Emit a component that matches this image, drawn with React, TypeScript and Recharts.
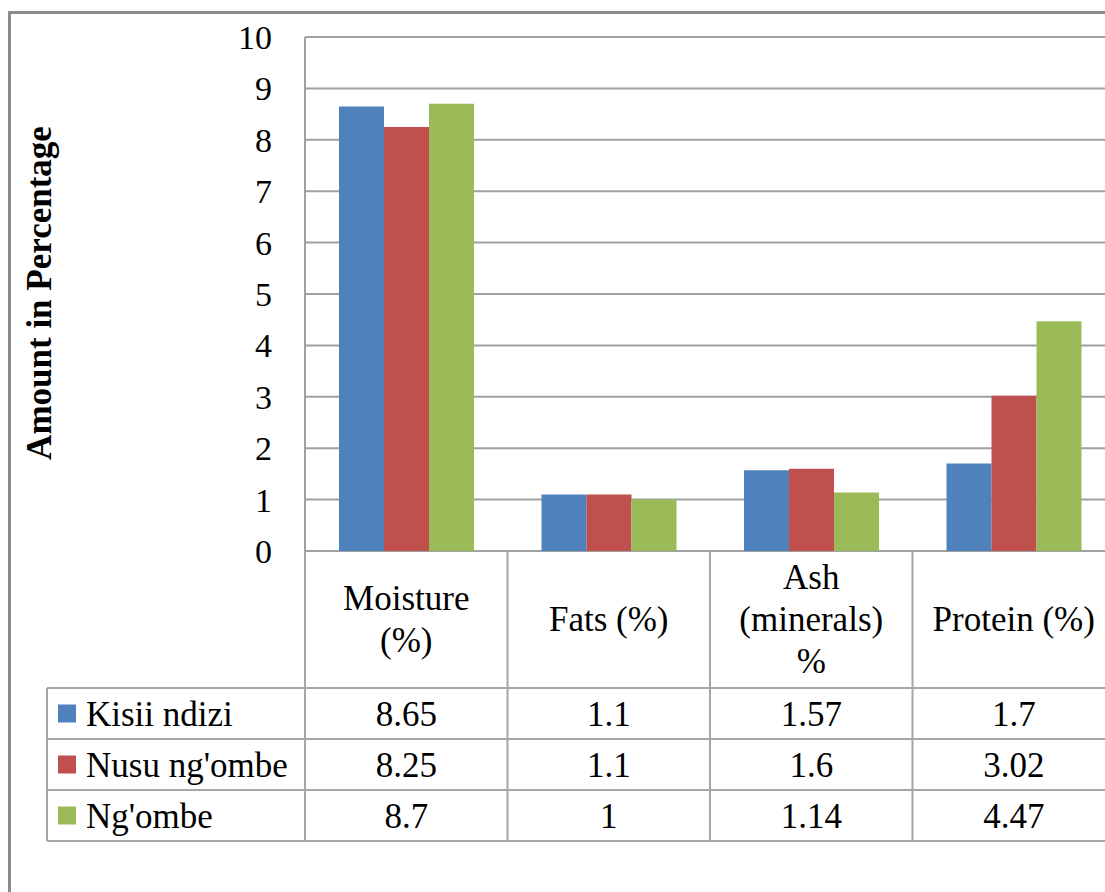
import { Bar, BarChart, CartesianGrid, XAxis, YAxis } from "recharts"

const categories = ["Moisture (%)", "Fats (%)", "Ash (minerals) %", "Protein (%)"]
// header lines as they wrap in the data table
const categoryLines = [["Moisture", "(%)"], ["Fats (%)"], ["Ash", "(minerals)", "%"], ["Protein (%)"]]
const kisiiNdizi = [8.65, 1.1, 1.57, 1.7]
const nusuNgombe = [8.25, 1.1, 1.6, 3.02]
const ngombe = [8.7, 1, 1.14, 4.47]
const seriesNames = ["Kisii ndizi", "Nusu ng'ombe", "Ng'ombe"]
const seriesColors = ["#4F81BD", "#C0504D", "#9BBB59"]
const yTicks = [0, 1, 2, 3, 4, 5, 6, 7, 8, 9, 10]

const seriesValues = [kisiiNdizi, nusuNgombe, ngombe]

const chartData = categories.map((name, i) => ({
  name,
  kisii: kisiiNdizi[i],
  nusu: nusuNgombe[i],
  ngombe: ngombe[i],
}))

const FONT = "Liberation Serif, Times New Roman, serif"
const textStyle = { fontFamily: FONT }
const LINE = "#a6a6a6"
const HEADER_H = 137
const ROW_H = 51

// each x tick draws one column of the data table under its category
function TableColumn(props: any) {
  const { x, y, payload, index } = props
  const half = payload.offset || 101
  const left = x - half
  const right = x + half
  const lines = categoryLines[index] || [payload.value]
  const headerMid = y + HEADER_H / 2
  const rowsTop = y + HEADER_H
  return (
    <g>
      <line x1={left} y1={y} x2={left} y2={rowsTop + ROW_H * 3} stroke={LINE} strokeWidth={2} />
      {lines.map((t: string, k: number) => (
        <text
          key={k}
          x={x}
          y={headerMid + (k - (lines.length - 1) / 2) * 42}
          dy="0.33em"
          textAnchor="middle"
          fontSize={35}
          style={textStyle}
          fill="#000"
        >
          {t}
        </text>
      ))}
      {[0, 1, 2, 3].map((r) => (
        <line key={r} x1={left} y1={rowsTop + r * ROW_H} x2={right} y2={rowsTop + r * ROW_H} stroke={LINE} strokeWidth={2} />
      ))}
      {seriesValues.map((vals, r) => (
        <text
          key={r}
          x={x}
          y={rowsTop + r * ROW_H + ROW_H / 2}
          dy="0.35em"
          textAnchor="middle"
          fontSize={35}
          style={textStyle}
          fill="#000"
        >
          {vals[index]}
        </text>
      ))}
      {index === 0 && (
        <g>
          <line x1={47} y1={rowsTop} x2={47} y2={rowsTop + ROW_H * 3} stroke={LINE} strokeWidth={2} />
          {[0, 1, 2, 3].map((r) => (
            <line key={r} x1={47} y1={rowsTop + r * ROW_H} x2={left} y2={rowsTop + r * ROW_H} stroke={LINE} strokeWidth={2} />
          ))}
          {seriesNames.map((n, r) => (
            <g key={n}>
              <rect x={58} y={rowsTop + r * ROW_H + ROW_H / 2 - 9} width={18} height={18} fill={seriesColors[r]} />
              <text
                x={86}
                y={rowsTop + r * ROW_H + ROW_H / 2}
                dy="0.35em"
                fontSize={35}
                style={textStyle}
                fill="#000"
              >
                {n}
              </text>
            </g>
          ))}
        </g>
      )}
    </g>
  )
}

function AxisTitle() {
  return (
    <text
      x={39}
      y={293}
      transform="rotate(-90 39 293)"
      textAnchor="middle"
      dy="0.35em"
      fontSize={35}
      fontWeight="bold"
      style={textStyle}
      fill="#000"
    >
      Amount in Percentage
    </text>
  )
}

export default function App() {
  return (
    <div style={{ position: "fixed", left: 0, top: 0, width: 1105, height: 892, overflow: "hidden", background: "#fff", fontFamily: FONT }}>
      <div
        style={{
          position: "absolute",
          left: 8,
          top: 11,
          width: 1200,
          height: 1000,
          border: "3px solid #8c8c8c",
          boxSizing: "border-box",
        }}
      />
      <div style={{ position: "absolute", left: 0, top: 0 }}>
        <BarChart
          width={1135}
          height={892}
          data={chartData}
          margin={{ top: 37, right: 20, bottom: 50, left: 225 }}
          barCategoryGap={34}
          barGap={0}
          style={textStyle}
        >
          <CartesianGrid vertical={false} stroke="#a0a0a0" strokeWidth={2} />
          <XAxis
            dataKey="name"
            axisLine={false}
            tickLine={false}
            tickSize={0}
            tickMargin={0}
            height={291}
            interval={0}
            tick={<TableColumn />}
          />
          <YAxis
            width={80}
            domain={[0, 10]}
            ticks={yTicks}
            interval={0}
            axisLine={{ stroke: "#a0a0a0", strokeWidth: 2 }}
            tickLine={false}
            tickSize={0}
            tickMargin={33}
            tick={{ fill: "#000", fontSize: 34, style: textStyle }}
            label={{ content: () => <AxisTitle /> }}
          />
          <Bar dataKey="kisii" name={seriesNames[0]} fill={seriesColors[0]} isAnimationActive={false} />
          <Bar dataKey="nusu" name={seriesNames[1]} fill={seriesColors[1]} isAnimationActive={false} />
          <Bar dataKey="ngombe" name={seriesNames[2]} fill={seriesColors[2]} isAnimationActive={false} />
        </BarChart>
      </div>
    </div>
  )
}
